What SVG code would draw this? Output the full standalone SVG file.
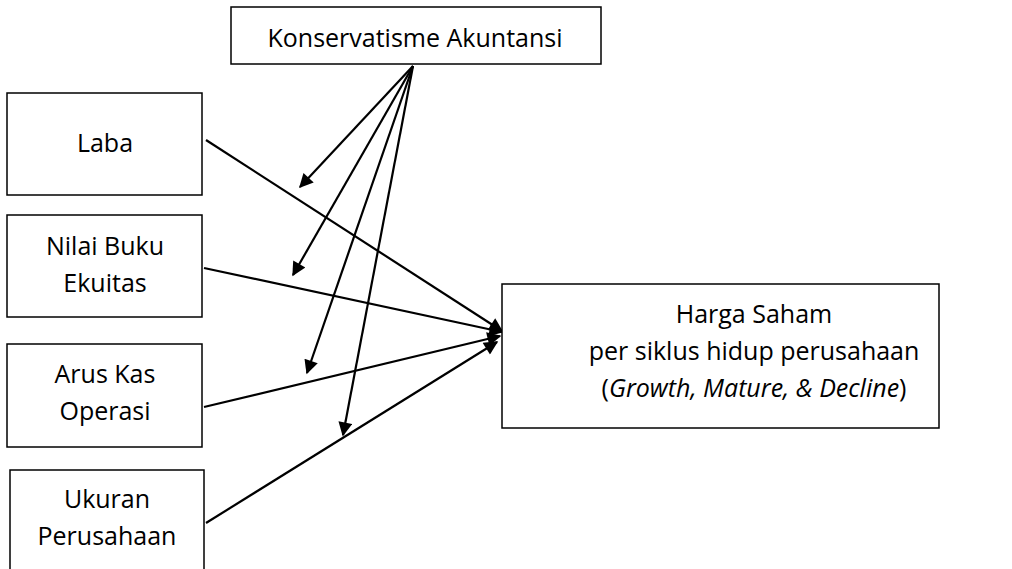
<svg xmlns="http://www.w3.org/2000/svg" width="1012" height="569" viewBox="0 0 1012 569">
<style>
.box{fill:#fff;stroke:#000;stroke-width:1.5}
.t{font-family:"Open Sans","Liberation Sans",sans-serif;font-size:25px;fill:#000;text-anchor:middle}
.c{stroke:#000;stroke-width:2.2;fill:none;marker-end:url(#ah)}
</style>
<defs>
<marker id="ah" viewBox="0 0 10 10" refX="9" refY="5" markerUnits="userSpaceOnUse" markerWidth="18" markerHeight="14" orient="auto">
<path d="M0,0 L10,5 L0,10 z" fill="#000"/>
</marker>
</defs>
<rect width="1012" height="569" fill="#fff"/>
<g id="connectors">
<line class="c" x1="413" y1="66" x2="300" y2="187"/>
<line class="c" x1="413" y1="66" x2="293" y2="275"/>
<line class="c" x1="413" y1="66" x2="307" y2="373"/>
<line class="c" x1="413" y1="66" x2="343" y2="435"/>
<line class="c" x1="206" y1="140" x2="502" y2="331"/>
<line class="c" x1="204" y1="268" x2="502" y2="332"/>
<line class="c" x1="204" y1="407" x2="500" y2="336"/>
<line class="c" x1="206" y1="523" x2="497" y2="342"/>
</g>
<g id="konservatisme">
<rect class="box" x="231" y="7" width="370" height="57"/>
<text class="t" x="415" y="47">Konservatisme Akuntansi</text>
</g>
<g id="laba">
<rect class="box" x="7" y="93" width="195" height="102"/>
<text class="t" x="105" y="152">Laba</text>
</g>
<g id="nilai">
<rect class="box" x="7" y="215" width="195" height="102"/>
<text class="t" x="105" y="255">Nilai Buku</text>
<text class="t" x="105" y="292">Ekuitas</text>
</g>
<g id="arus">
<rect class="box" x="7" y="344" width="195" height="103"/>
<text class="t" x="105" y="383">Arus Kas</text>
<text class="t" x="105" y="420">Operasi</text>
</g>
<g id="ukuran">
<rect class="box" x="10" y="470" width="194" height="110"/>
<text class="t" x="107" y="508">Ukuran</text>
<text class="t" x="107" y="545">Perusahaan</text>
</g>
<g id="harga">
<rect class="box" x="502" y="284" width="437" height="144"/>
<text class="t" x="754" y="323">Harga Saham</text>
<text class="t" x="754" y="360">per siklus hidup perusahaan</text>
<text class="t" x="754" y="397">(<tspan font-style="italic">Growth, Mature, &amp; Decline</tspan>)</text>
</g>
</svg>
